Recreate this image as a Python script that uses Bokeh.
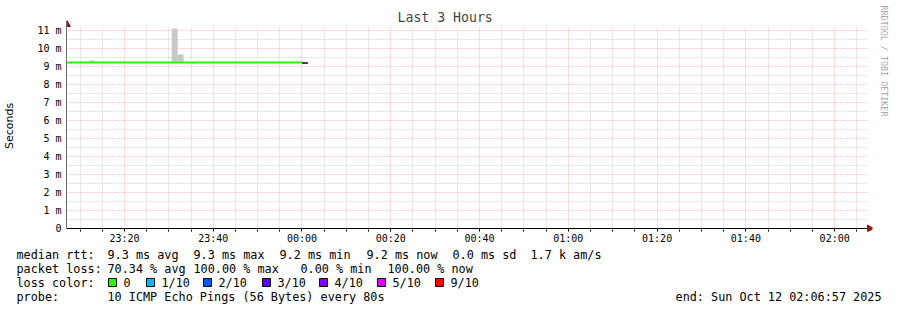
from bokeh.plotting import figure
from bokeh.models import Range1d, FixedTicker, ColumnDataSource, Title
from bokeh.layouts import column, row
from bokeh.core.properties import value
from bokeh.embed import file_html
from bokeh.resources import INLINE

# ---- data (time in minutes relative to 00:00, values in ms) ----
t_start = -53.05   # 23:06:57
t_end = 126.95     # 02:06:57

med_start = [-53.05, 0.0]
med_end = [0.0, 1.33]
med_value = [9.25, 9.22]
med_color = ["#26ff00", "#000000"]
med_width = [2, 1.5]

smoke_start = [-48.0, -29.33, -28.0, -25.33]
smoke_end = [-46.67, -28.0, -26.67, -24.0]
smoke_low = [9.25, 9.25, 9.25, 9.17]
smoke_high = [9.35, 11.14, 9.69, 9.25]

x_ticks = [-40, -20, 0, 20, 40, 60, 80, 100, 120]
x_labels = ["23:20", "23:40", "00:00", "00:20", "00:40", "01:00", "01:20", "01:40", "02:00"]
x_minor = [-50, -45, -35, -30, -25, -15, -10, -5, 5, 10, 15, 25, 30, 35, 45, 50, 55,
           65, 70, 75, 85, 90, 95, 105, 110, 115, 125]
y_ticks = [0, 1, 2, 3, 4, 5, 6, 7, 8, 9, 10, 11]
y_labels = ["0", "1 m", "2 m", "3 m", "4 m", "5 m", "6 m", "7 m", "8 m", "9 m", "10 m", "11 m"]
y_minor = [0.5, 1.5, 2.5, 3.5, 4.5, 5.5, 6.5, 7.5, 8.5, 9.5, 10.5]

loss_labels = ["0", "1/10", "2/10", "3/10", "4/10", "5/10", "9/10"]
loss_colors = ["#26ff00", "#00b8ff", "#0059ff", "#5e00ff", "#7e00ff", "#dd00ff", "#ff0000"]

rtt_items = ["median rtt:", "9.3 ms avg", "9.3 ms max", "9.2 ms min", "9.2 ms now",
             "0.0 ms sd", "1.7 k am/s"]
loss_items = ["packet loss:", "70.34 % avg", "100.00 % max", "0.00 % min", "100.00 % now"]
probe_items = ["loss color:", "probe:", "10 ICMP Echo Pings (56 Bytes) every 80s"]
end_text = "end: Sun Oct 12 02:06:57 2025"

title_text = "Last 3 Hours"
ylabel_text = "Seconds"
watermark_text = "RRDTOOL / TOBI OETIKER"

# ---- layout (px) ----
W = 897
H_MAIN = 248
H_LEG = 62
PX_PER_MIN = 4.45
PX_PER_MS = 17.956
MONO = "DejaVu Sans Mono"

plot_top_ms = 11.25                       # where the graph area ends
y_end = plot_top_ms + 6 / PX_PER_MS       # room for the arrow head
y_start = -3 / PX_PER_MS                  # room for the arrow head / ticks
x_end = t_end + 7 / PX_PER_MIN
grid_right = t_end + 2 / PX_PER_MIN
axis_right = t_end + 3 / PX_PER_MIN

p = figure(width=W, height=H_MAIN, output_backend="svg", toolbar_location=None,
           x_range=Range1d(t_start, x_end), y_range=Range1d(y_start, y_end),
           min_border_left=66, min_border_right=23, min_border_top=20, min_border_bottom=17)
p.outline_line_color = None
p.background_fill_color = "white"
p.border_fill_color = "white"

p.add_layout(Title(text=watermark_text, align="left", text_font=MONO, text_font_size="8.4px",
                   text_color="#a8a8a8", text_font_style="normal", offset=-15, standoff=13),
             "right")

p.title.text = title_text
p.title.align = "left"
p.title.text_font = MONO
p.title.text_font_size = "13.2px"
p.title.text_font_style = "normal"
p.title.offset = 331
p.title.standoff = -9

xt = FixedTicker(ticks=x_ticks, minor_ticks=x_minor)
yt = FixedTicker(ticks=y_ticks, minor_ticks=y_minor)
p.xaxis.ticker = xt
p.xgrid.ticker = xt
p.yaxis.ticker = yt
p.ygrid.ticker = yt
p.xaxis.major_label_overrides = {t: l for t, l in zip(x_ticks, x_labels)}
p.yaxis.major_label_overrides = {t: l for t, l in zip(y_ticks, y_labels)}
for ax in (p.xaxis, p.yaxis):
    ax.major_label_text_font = MONO
    ax.major_label_text_font_size = "10px"
    ax.major_label_text_color = "#000000"
p.xaxis.axis_line_color = None
p.xaxis.major_tick_in = 3
p.xaxis.major_tick_out = 0
p.xaxis.minor_tick_in = 2
p.xaxis.minor_tick_out = 0
p.xaxis.major_tick_line_color = "#000000"
p.xaxis.minor_tick_line_color = "#000000"
p.xaxis.major_label_standoff = 1
p.yaxis.bounds = (0, y_end)
p.yaxis.axis_line_color = "#707070"
p.yaxis.major_tick_in = 0
p.yaxis.minor_tick_in = 0
p.yaxis.major_tick_out = 0
p.yaxis.minor_tick_out = 0
p.yaxis.major_tick_line_color = None
p.yaxis.minor_tick_line_color = None
p.yaxis.major_label_standoff = 5
p.yaxis.axis_label = ylabel_text
p.yaxis.axis_label_text_font = "DejaVu Sans"
p.yaxis.axis_label_text_font_size = "11px"
p.yaxis.axis_label_text_font_style = "normal"
p.yaxis.axis_label_text_color = "#000000"
p.yaxis.axis_label_standoff = 18

p.xgrid.grid_line_color = "#ff7070"
p.ygrid.grid_line_color = "#ff7070"
for g in (p.xgrid, p.ygrid):
    g.grid_line_alpha = 0.5
    g.grid_line_dash = "1 1"
    g.minor_grid_line_color = "#a8a8a8"
    g.minor_grid_line_alpha = 0.5
    g.minor_grid_line_dash = "1 1"

# white masks so the grid stops where the graph area ends
p.quad(left=[t_start, grid_right, t_start], right=[x_end, x_end, x_end],
       bottom=[plot_top_ms, y_start, y_start], top=[y_end, y_end, 0],
       fill_color="white", line_color=None)

# smoke
p.quad(left=smoke_start, right=smoke_end, bottom=smoke_low, top=smoke_high,
       fill_color="#c8c8c8", line_color=None)

# median line coloured by loss
src = ColumnDataSource(dict(x0=med_start, x1=med_end, y=med_value, c=med_color, w=med_width))
p.segment(x0="x0", y0="y", x1="x1", y1="y", line_color="c", line_width="w", source=src)

# x axis line (RRD style) and arrow heads
p.segment(x0=[t_start], y0=[0], x1=[axis_right], y1=[0], line_color="#000000", line_width=1)
p.scatter(x=[t_start + 0.5 / PX_PER_MIN, t_end + 4 / PX_PER_MIN],
          y=[plot_top_ms + 2 / PX_PER_MS, 0],
          marker="triangle", size=7, angle=[0, -1.5708],
          fill_color="#8b1a1a", line_color="#8b1a1a")

# ---- legend area (coordinates are canvas pixels) ----
q = figure(width=W, height=H_LEG, output_backend="svg", toolbar_location=None,
           x_range=Range1d(0, W), y_range=Range1d(H_MAIN + H_LEG, H_MAIN),
           x_axis_type=None, y_axis_type=None,
           min_border=0, min_border_left=0, min_border_right=0,
           min_border_top=0, min_border_bottom=0)
q.outline_line_color = None
q.xgrid.visible = False
q.ygrid.visible = False
q.background_fill_color = "white"
q.border_fill_color = "white"

row_y = [254, 268, 282, 296]
rtt_x = [16, 107, 193, 279, 366, 452, 530]
loss_x = [16, 107, 193, 300, 387]
box_x = [108, 146, 203, 262, 319, 377, 435]

tx, ty, tt = [], [], []
for t, x in zip(rtt_items, rtt_x):
    tx.append(x); ty.append(row_y[0]); tt.append(t)
for t, x in zip(loss_items, loss_x):
    tx.append(x); ty.append(row_y[1]); tt.append(t)
tx += [16, 16, 107]; ty += [row_y[2], row_y[3], row_y[3]]; tt += probe_items
for t, x in zip(loss_labels, box_x):
    tx.append(x + 15); ty.append(row_y[2]); tt.append(t)

q.text(x=tx, y=ty, text=tt, text_font=value(MONO), text_font_size="11.8px",
       text_baseline="middle", text_align="left", text_color="#000000")
q.text(x=[881], y=[row_y[3]], text=[end_text], text_font=value(MONO), text_font_size="11.8px",
       text_baseline="middle", text_align="right", text_color="#000000")
q.quad(left=box_x, right=[b + 8 for b in box_x], top=[row_y[2] - 4] * len(box_x),
       bottom=[row_y[2] + 4] * len(box_x), fill_color=loss_colors, line_color="#000000",
       line_width=1)

layout = column(p, row(q), spacing=0)
open("out.html", "w").write(file_html(layout, INLINE))
